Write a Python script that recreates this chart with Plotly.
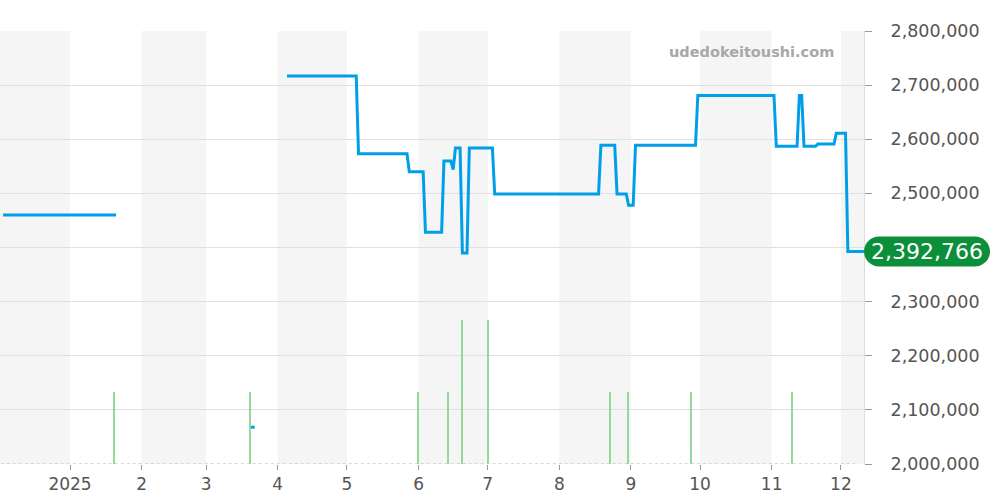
import plotly.graph_objects as go
import pandas as pd

# ---- data ----
price_dates = [
    "2024-12-03", "2025-01-21", "2025-02-20",
    "2025-03-20", "2025-03-22", "2025-03-28",
    "2025-04-05", "2025-05-05", "2025-05-06", "2025-05-27", "2025-05-28",
    "2025-06-03", "2025-06-04", "2025-06-11", "2025-06-12", "2025-06-15",
    "2025-06-16", "2025-06-17", "2025-06-19", "2025-06-20", "2025-06-22",
    "2025-06-23", "2025-07-03", "2025-07-04", "2025-08-18", "2025-08-19",
    "2025-08-25", "2025-08-26", "2025-08-30", "2025-08-31", "2025-09-02",
    "2025-09-03", "2025-09-29", "2025-09-30", "2025-11-02", "2025-11-03",
    "2025-11-12", "2025-11-13", "2025-11-14", "2025-11-15", "2025-11-20",
    "2025-11-21", "2025-11-28", "2025-11-29", "2025-12-03", "2025-12-04",
    "2025-12-11",
]
price_values = [
    2460000, 2460000, None,
    2068000, 2068000, None,
    2717000, 2717000, 2573000, 2573000, 2540000,
    2540000, 2428000, 2428000, 2560000, 2560000,
    2544000, 2584000, 2584000, 2390000, 2390000,
    2584000, 2584000, 2499000, 2499000, 2589000,
    2589000, 2499000, 2499000, 2478000, 2478000,
    2589000, 2589000, 2681000, 2681000, 2587000,
    2587000, 2681000, 2681000, 2587000, 2587000,
    2591000, 2591000, 2611000, 2611000, 2392766,
    2392766,
]

volume_dates = ["2025-01-20", "2025-03-20", "2025-06-01", "2025-06-14", "2025-06-20",
                "2025-07-01", "2025-08-23", "2025-08-31", "2025-09-27", "2025-11-10"]
volume_values = [1, 1, 1, 1, 2, 2, 1, 1, 1, 1]

baseline_dates = ["2024-12-02", "2025-12-07"]
baseline_values = [0, 0]

month_ticks = ["2025-01-01", "2025-02-01", "2025-03-01", "2025-04-01", "2025-05-01",
               "2025-06-01", "2025-07-01", "2025-08-01", "2025-09-01", "2025-10-01",
               "2025-11-01", "2025-12-01"]
month_labels = ["2025", "2", "3", "4", "5", "6", "7", "8", "9", "10", "11", "12"]

y_ticks = [2000000, 2100000, 2200000, 2300000, 2400000, 2500000, 2600000, 2700000, 2800000]
y_labels = ["2,000,000", "2,100,000", "2,200,000", "2,300,000", "",
            "2,500,000", "2,600,000", "2,700,000", "2,800,000"]

last_price = 2392766
x_start, x_end = "2024-12-01 16:00", "2025-12-11"

# ---- figure ----
FONT = "DejaVu Sans"
fig = go.Figure()

fig.add_trace(go.Scatter(
    x=baseline_dates, y=baseline_values, yaxis="y2", mode="lines",
    line=dict(color="#a9dfb0", width=1.5, dash="dot"), hoverinfo="skip", showlegend=False))

fig.add_trace(go.Bar(
    x=volume_dates, y=volume_values, yaxis="y2", width=0.6 * 86400000,
    marker=dict(color="#93d99b", line=dict(width=0)), showlegend=False))

fig.add_trace(go.Scatter(
    x=price_dates, y=price_values, mode="lines", connectgaps=False,
    line=dict(color="#00a0e9", width=3), showlegend=False))

# alternating month bands
shapes = []
months = pd.date_range("2024-12-01", "2026-01-01", freq="MS")
for i in range(len(months) - 1):
    if months[i].month % 2 == 0:
        shapes.append(dict(type="rect", xref="x", yref="paper",
                           x0=months[i], x1=months[i + 1], y0=0, y1=1,
                           fillcolor="#f5f5f5", line=dict(width=0), layer="below"))

# last-price pill
r, w = 15, 126
k = 0.5523 * r
path = (f"M {r},{-r} L {w - r},{-r} C {w - r + k},{-r} {w},{-k} {w},0 "
        f"C {w},{k} {w - r + k},{r} {w - r},{r} L {r},{r} "
        f"C {r - k},{r} 0,{k} 0,0 C 0,{-k} {r - k},{-r} {r},{-r} Z")
shapes.append(dict(type="path", xref="paper", yref="y", xsizemode="pixel", ysizemode="pixel",
                   xanchor=1, yanchor=last_price, path=path,
                   fillcolor="#0b8f3a", line=dict(width=0), layer="above"))

fig.update_layout(
    width=1000, height=500,
    margin=dict(l=0, r=136, t=31, b=36),
    paper_bgcolor="white", plot_bgcolor="white",
    font=dict(family=FONT, color="#555555"),
    shapes=shapes,
    bargap=0,
    xaxis=dict(
        type="date", range=[x_start, x_end],
        tickvals=month_ticks, ticktext=month_labels,
        ticks="outside", ticklen=5, tickcolor="#999999",
        showgrid=False, zeroline=False, showline=False,
        tickfont=dict(size=17, color="#555555", family=FONT),
    ),
    yaxis=dict(
        side="right", range=[2000000, 2800000], tickvals=y_ticks, ticktext=y_labels,
        ticks="outside", ticklen=7, tickcolor="#999999",
        showgrid=True, gridcolor="#e0e0e0", gridwidth=1,
        showline=True, linecolor="#dddddd", linewidth=1, mirror=False,
        zeroline=False, ticklabelstandoff=15,
        tickfont=dict(size=17.5, color="#555555", family=FONT),
    ),
    yaxis2=dict(overlaying="y", range=[0, 6], visible=False, showgrid=False),
    annotations=[
        dict(xref="paper", yref="y", x=1, y=last_price, xanchor="center", yanchor="middle",
             xshift=63, text=f"{last_price:,}", showarrow=False,
             font=dict(size=22, color="white", family=FONT)),
        dict(xref="paper", yref="paper", x=836 / 864, y=1 - (52 - 31) / 433,
             xanchor="right", yanchor="middle", text="<b>udedokeitoushi.com</b>",
             showarrow=False, font=dict(size=14.5, color="#a8a8a8", family=FONT)),
    ],
)

fig.write_html("out.html", config={"displayModeBar": False},
               post_script="document.body.style.margin='0';")
